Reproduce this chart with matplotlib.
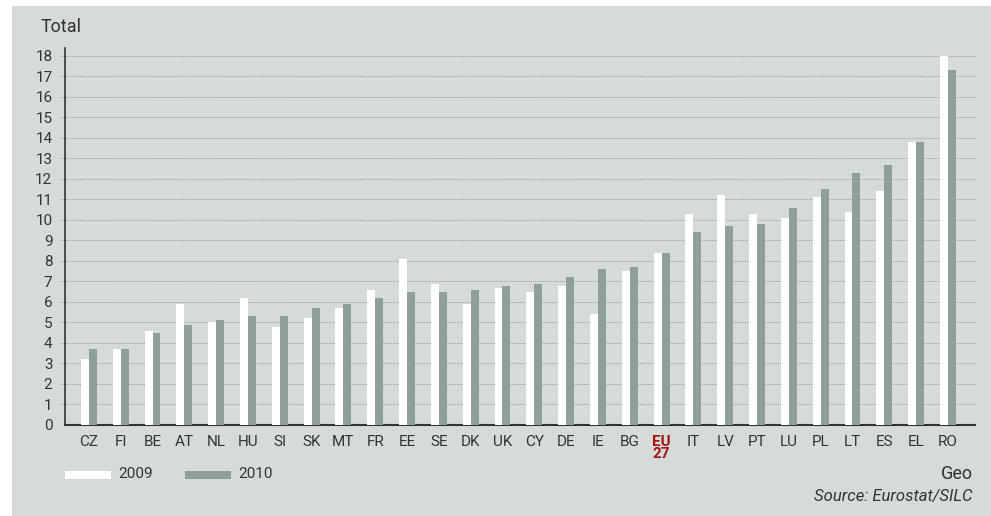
import matplotlib.pyplot as plt
from matplotlib.patches import Rectangle
import numpy as np

plt.rcParams['font.family'] = ['Roboto', 'DejaVu Sans']

countries = ['CZ', 'FI', 'BE', 'AT', 'NL', 'HU', 'SI', 'SK', 'MT', 'FR',
             'EE', 'SE', 'DK', 'UK', 'CY', 'DE', 'IE', 'BG', 'EU\n27', 'IT',
             'LV', 'PT', 'LU', 'PL', 'LT', 'ES', 'EL', 'RO']
v2009 = [3.2, 3.7, 4.6, 5.9, 5.0, 6.2, 4.8, 5.2, 5.7, 6.6,
         8.1, 6.9, 5.9, 6.7, 6.5, 6.8, 5.4, 7.5, 8.4, 10.3,
         11.2, 10.3, 10.1, 11.1, 10.4, 11.4, 13.8, 18.0]
v2010 = [3.7, 3.7, 4.5, 4.9, 5.1, 5.3, 5.3, 5.7, 5.9, 6.2,
         6.5, 6.5, 6.6, 6.8, 6.9, 7.2, 7.6, 7.7, 8.4, 9.4,
         9.7, 9.8, 10.6, 11.5, 12.3, 12.7, 13.8, 17.3]
yticks = list(range(0, 19))

panel = '#d4dbd9'
grey = '#8fa09a'
dark = '#333333'

fig = plt.figure(figsize=(9.91, 5.16), dpi=100)
fig.patch.set_facecolor('white')
fig.patches.append(Rectangle((12 / 991, 0), 1, 510 / 516, transform=fig.transFigure,
                             facecolor=panel, edgecolor='none', zorder=-10))

ax = fig.add_axes([65 / 991, 91 / 516, 910 / 991, 377 / 516])
ax.patch.set_alpha(0)

x = np.arange(len(countries))
w = 0.25
ax.bar(x - w / 2, v2009, width=w, color='white', zorder=3, label='2009')
ax.bar(x + w / 2, v2010, width=w, color=grey, zorder=3, label='2010')

ax.set_xlim(-0.75, len(countries) - 0.15)
ax.set_ylim(0, 18.39)

# dotted gridlines that run a little past the left axis
for t in yticks[1:]:
    ax.plot([-0.006, 1], [t, t], transform=ax.get_yaxis_transform(),
            color='#9c9c9c', lw=0.7, ls=(0, (1, 1)), clip_on=False, zorder=1)

ax.set_yticks(yticks)
ax.set_yticklabels([str(t) for t in yticks], fontsize=11, color=dark)
ax.tick_params(axis='y', length=0, pad=9)
ax.set_xticks(x)
ax.set_xticklabels(countries, fontsize=11, color=dark, linespacing=0.85)
ax.tick_params(axis='x', length=0, pad=7)
eu = ax.get_xticklabels()[countries.index('EU\n27')]
eu.set_color('#a31515')
eu.set_fontweight('bold')
eu.set_verticalalignment('top')

for s in ['top', 'right']:
    ax.spines[s].set_visible(False)
ax.spines['left'].set_color(dark)
ax.spines['bottom'].set_color(dark)
ax.spines['left'].set_linewidth(1.2)
ax.spines['bottom'].set_linewidth(1.5)

fig.text(41 / 991, 1 - 27 / 516, 'Total', fontsize=13, color=dark, va='center', ha='left')

# legend swatches
fig.patches.append(Rectangle((65 / 991, 1 - 479 / 516), 46 / 991, 8 / 516,
                             transform=fig.transFigure, facecolor='white', edgecolor='none'))
fig.text(118 / 991, 1 - 474 / 516, '2009', fontsize=11, color=dark, va='center')
fig.patches.append(Rectangle((185 / 991, 1 - 479 / 516), 46 / 991, 8 / 516,
                             transform=fig.transFigure, facecolor=grey, edgecolor='none'))
fig.text(238 / 991, 1 - 474 / 516, '2010', fontsize=11, color=dark, va='center')

fig.text(973 / 991, 1 - 474 / 516, 'Geo', fontsize=13, color=dark, va='center', ha='right')
fig.text(973 / 991, 1 - 496 / 516, 'Source: Eurostat/SILC', fontsize=12, color=dark,
         va='center', ha='right', style='italic')

fig.savefig('out.png', dpi=100, facecolor=fig.get_facecolor())
